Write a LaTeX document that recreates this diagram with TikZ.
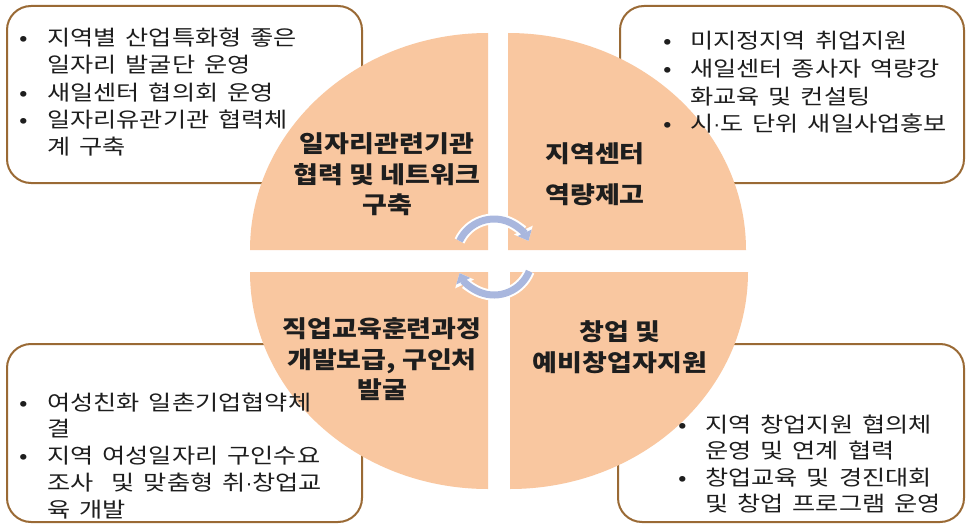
\documentclass[tikz,border=0pt]{standalone}
\usepackage{fontspec}
\newfontfamily\kr{Noto Sans CJK KR}[FakeStretch=1.2,WordSpace=1.6]
\newfontfamily\krq{Noto Sans CJK KR}[FakeStretch=1.15]
\newfontfamily\lat{Liberation Sans}
\usetikzlibrary{arrows.meta}
\definecolor{boxline}{HTML}{9A6A35}
\definecolor{peach}{HTML}{F9C7A0}
\definecolor{cyc}{HTML}{A9B7DE}
\definecolor{ink}{HTML}{1E1E1E}
\newcommand\bul[1]{\llap{\makebox[0pt][c]{•}\hspace{#1}}}
\newcommand\mdot{{\lat ·}}
\begin{document}
\begin{tikzpicture}[x=1pt,y=-1pt,
  cbox/.style={draw=boxline,line width=2pt,fill=white,rounded corners=24pt,rectangle,inner sep=0pt},
  quad/.style={fill=peach},
  item/.style={anchor=base west,inner sep=0pt,font=\kr\fontsize{21}{27}\selectfont,text=ink},
  qlabel/.style={anchor=base,inner sep=0pt,font=\krq\bfseries\fontsize{23.5}{30}\selectfont,text=ink},
  cycwhite/.style={draw=white,line width=11pt,-{Triangle[length=12pt,width=20pt]}},
  cycblue/.style={draw=cyc,line width=7pt,-{Triangle[length=9pt,width=15pt]}}]
\fill[white] (0,0) rectangle (967,527);
\useasboundingbox (0,0) rectangle (967,527);
% corner boxes
\node[cbox,minimum width=355pt,minimum height=177pt] (b1) at (184.5,94.5) {};
\node[cbox,minimum width=344pt,minimum height=177pt] (b2) at (792,94.5) {};
\node[cbox,minimum width=355pt,minimum height=178pt] (b3) at (184.5,433) {};
\node[cbox,minimum width=346pt,minimum height=178pt] (b4) at (791,433) {};
% quadrants
\fill[quad] (488,250) -- (250,250) arc[start angle=180,end angle=270,x radius=238,y radius=217] -- cycle;
\fill[quad] (508,250) -- (508,33) arc[start angle=270,end angle=360,x radius=238,y radius=217] -- cycle;
\fill[quad] (488,272) -- (488,489) arc[start angle=90,end angle=180,x radius=238,y radius=217] -- cycle;
\fill[quad] (510,272) -- (748,272) arc[start angle=0,end angle=90,x radius=238,y radius=217] -- cycle;
% cycle arrows
\coordinate (c) at (494,257);
\draw[cycwhite] ([shift={(205:38)}]c) arc[start angle=205,end angle=335,radius=38];
\draw[cycblue] ([shift={(205:38)}]c) arc[start angle=205,end angle=335,radius=38];
\draw[cycwhite] ([shift={(22:38)}]c) arc[start angle=22,end angle=155,radius=38];
\draw[cycblue] ([shift={(22:38)}]c) arc[start angle=22,end angle=155,radius=38];
% box texts
\node[item] (t11) at (47,46) {\bul{23pt}지역별 산업특화형 좋은};
\node[item] (t12) at (47,73) {일자리 발굴단 운영};
\node[item] (t13) at (47,100) {\bul{23pt}새일센터 협의회 운영};
\node[item] (t14) at (47,127) {\bul{23pt}일자리유관기관 협력체};
\node[item] (t15) at (47,154) {계 구축};
\node[item] (t21) at (690,49) {\bul{22pt}미지정지역 취업지원};
\node[item] (t22) at (690,77) {\bul{22pt}새일센터 종사자 역량강};
\node[item] (t23) at (690,104) {화교육 및 컨설팅};
\node[item] (t24) at (690,131) {\bul{22pt}시\mdot 도 단위 새일사업홍보};
\node[item] (t31) at (47,410) {\bul{23pt}여성친화 일촌기업협약체};
\node[item] (t32) at (47,436) {결};
\node[item] (t33) at (47,463) {\bul{23pt}지역 여성일자리 구인수요};
\node[item] (t34) at (47,490) {조사 \ 및 맞춤형 취\mdot 창업교};
\node[item] (t35) at (47,517) {육 개발};
\node[item] (t41) at (705,432) {\bul{22pt}지역 창업지원 협의체};
\node[item] (t42) at (705,458) {운영 및 연계 협력};
\node[item] (t43) at (705,485) {\bul{22pt}창업교육 및 경진대회};
\node[item] (t44) at (705,511) {및 창업 프로그램 운영};
% quadrant labels
\node[qlabel] (q11) at (387,152) {일자리관련기관};
\node[qlabel] (q12) at (387,183) {협력 및 네트워크};
\node[qlabel] (q13) at (387,213) {구축};
\node[qlabel] (q21) at (595,162) {지역센터};
\node[qlabel] (q22) at (595,203) {역량제고};
\node[qlabel] (q31) at (382,337) {직업교육훈련과정};
\node[qlabel] (q32) at (382,368) {개발보급, 구인처};
\node[qlabel] (q33) at (382,398) {발굴};
\node[qlabel] (q41) at (620,340) {창업 및};
\node[qlabel] (q42) at (620,371) {예비창업자지원};
\end{tikzpicture}
\end{document}
